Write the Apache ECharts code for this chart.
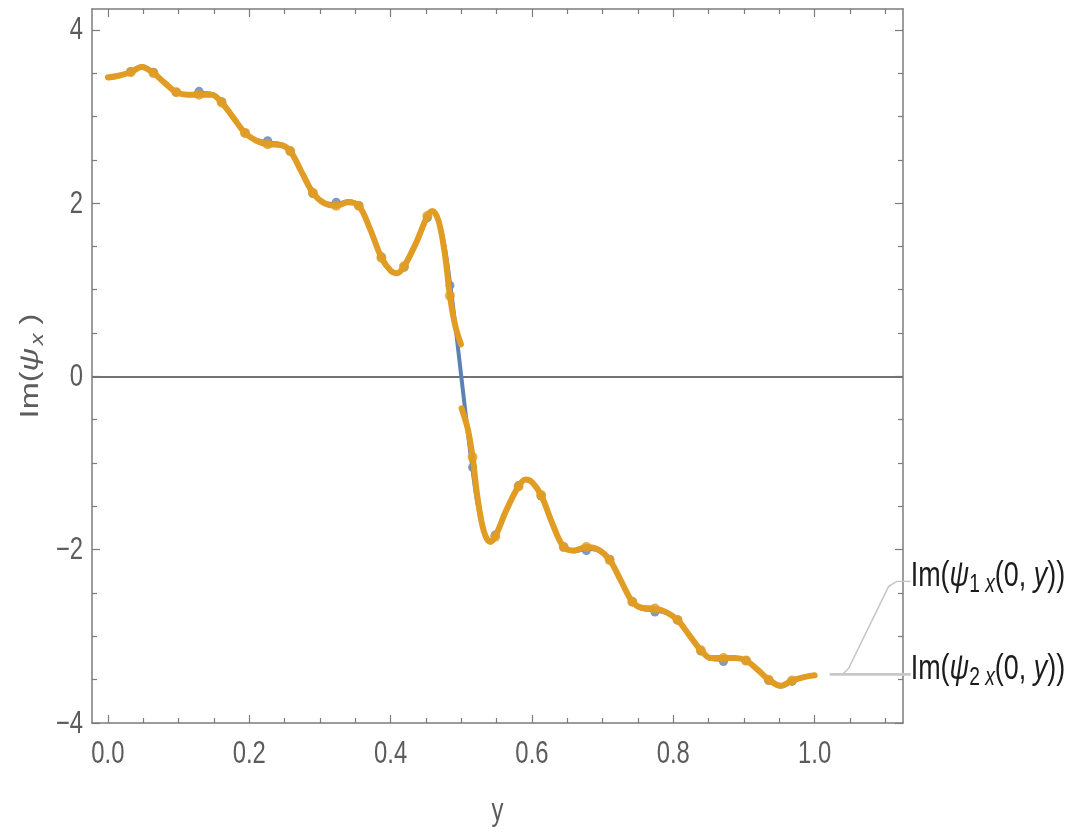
<!DOCTYPE html>
<html>
<head>
<meta charset="utf-8">
<script src="https://cdn.jsdelivr.net/npm/echarts@6/dist/echarts.min.js"></script>
<style>
  html, body { margin: 0; padding: 0; background: #ffffff; }
  #chart { width: 1068px; height: 833px; }
</style>
</head>
<body>
<div id="chart"></div>
<script>
// Sample positions (y) of the smooth curves
const knotY = [0, 0.015, 0.0323, 0.048, 0.0645, 0.08, 0.0968, 0.113, 0.129, 0.147, 0.161, 0.178, 0.194, 0.210,
  0.226, 0.245, 0.258, 0.274, 0.290, 0.306, 0.323, 0.340, 0.355, 0.371, 0.387, 0.400, 0.409, 0.419, 0.436,
  0.452, 0.459, 0.468, 0.477, 0.484, 0.492, 0.5, 0.508, 0.516, 0.523, 0.532, 0.541, 0.548, 0.564, 0.581,
  0.591, 0.600, 0.613, 0.629, 0.645, 0.660, 0.677, 0.694, 0.710, 0.726, 0.742, 0.755, 0.774, 0.790, 0.806,
  0.822, 0.839, 0.853, 0.871, 0.887, 0.903, 0.920, 0.935, 0.952, 0.968, 0.985, 1.0];

// Im(psi_1x(0, y))
const psi1Curve = [3.45, 3.47, 3.52, 3.58, 3.51, 3.39, 3.28, 3.25, 3.27, 3.26, 3.17, 2.98, 2.81, 2.73,
  2.70, 2.68, 2.60, 2.36, 2.11, 2.01, 1.99, 2.02, 1.97, 1.70, 1.38, 1.22, 1.19, 1.26, 1.53,
  1.83, 1.90, 1.79, 1.47, 1.08, 0.56, 0, -0.56, -1.08, -1.47, -1.79, -1.90, -1.83, -1.53, -1.26,
  -1.19, -1.22, -1.38, -1.70, -1.97, -2.02, -1.99, -2.01, -2.11, -2.36, -2.60, -2.68, -2.70, -2.73, -2.81,
  -2.98, -3.17, -3.26, -3.27, -3.25, -3.28, -3.39, -3.51, -3.58, -3.52, -3.47, -3.45];

// Im(psi_2x(0, y)) -- two branches with a jump at y = 0.5
const psi2UpperY = [0, 0.015, 0.0323, 0.048, 0.0645, 0.08, 0.0968, 0.113, 0.129, 0.147, 0.161, 0.178, 0.194, 0.210,
  0.226, 0.245, 0.258, 0.274, 0.290, 0.306, 0.323, 0.340, 0.355, 0.371, 0.387, 0.400, 0.409, 0.419, 0.436,
  0.452, 0.459, 0.468, 0.477, 0.484, 0.491, 0.4995];
const psi2Upper = [3.45, 3.47, 3.51, 3.57, 3.50, 3.39, 3.28, 3.25, 3.25, 3.25, 3.16, 2.98, 2.81, 2.72,
  2.68, 2.67, 2.60, 2.36, 2.12, 2.00, 1.97, 2.01, 1.97, 1.70, 1.37, 1.22, 1.19, 1.27, 1.54,
  1.85, 1.91, 1.79, 1.40, 0.93, 0.60, 0.37];
const psi2LowerY = [0.5005, 0.509, 0.516, 0.523, 0.532, 0.541, 0.548, 0.564, 0.581,
  0.591, 0.600, 0.613, 0.629, 0.645, 0.660, 0.677, 0.694, 0.710, 0.726, 0.742, 0.755, 0.774, 0.790, 0.806,
  0.822, 0.839, 0.853, 0.871, 0.887, 0.903, 0.920, 0.935, 0.952, 0.968, 0.985, 1.0];
const psi2Lower = [-0.37, -0.60, -0.93, -1.40, -1.79, -1.91, -1.85, -1.54, -1.27,
  -1.19, -1.22, -1.37, -1.70, -1.97, -2.01, -1.97, -2.00, -2.12, -2.36, -2.60, -2.67, -2.68, -2.72, -2.81,
  -2.98, -3.16, -3.25, -3.25, -3.25, -3.28, -3.39, -3.50, -3.57, -3.51, -3.47, -3.45];

// Sample points drawn as dots
const dotY = [0.0323, 0.0645, 0.0968, 0.129, 0.161, 0.194, 0.226, 0.258, 0.290, 0.323, 0.355, 0.387, 0.419,
  0.452, 0.484, 0.516, 0.548, 0.581, 0.613, 0.645, 0.677, 0.710, 0.742, 0.774, 0.806, 0.839, 0.871, 0.903,
  0.935, 0.968];
const psi1Dots = [3.52, 3.51, 3.28, 3.29, 3.17, 2.81, 2.72, 2.60, 2.11, 2.01, 1.97, 1.38, 1.26,
  1.83, 1.05, -1.05, -1.83, -1.26, -1.38, -1.97, -2.01, -2.11, -2.60, -2.72, -2.81, -3.17, -3.29, -3.28,
  -3.51, -3.52];
const psi2Dots = [3.51, 3.50, 3.28, 3.25, 3.16, 2.81, 2.68, 2.60, 2.12, 1.97, 1.97, 1.37, 1.27,
  1.85, 0.93, -0.93, -1.85, -1.27, -1.37, -1.97, -1.97, -2.12, -2.60, -2.68, -2.81, -3.16, -3.25, -3.28,
  -3.50, -3.51];

// Frame ticks and labels
const xMajor = [0, 0.2, 0.4, 0.6, 0.8, 1.0];
const xMinor = [0.05, 0.1, 0.15, 0.25, 0.3, 0.35, 0.45, 0.5, 0.55, 0.65, 0.7, 0.75, 0.85, 0.9, 0.95, 1.05, 1.1];
const yMajor = [-4, -2, 0, 2, 4];
const yMinor = [-3.5, -3, -2.5, -1.5, -1, -0.5, 0.5, 1, 1.5, 2.5, 3, 3.5];
const xTickText = ['0.0', '0.2', '0.4', '0.6', '0.8', '1.0'];
const yTickText = ['\u22124', '\u22122', '0', '2', '4'];
const legendIndex = ['1', '2'];

const BLUE = '#5e81b5';
const ORANGE = '#e19c24';
const FRAME = '#7c7c7c';
const LABEL = '#5c5c5c';
const FONT = '"Liberation Sans", Arial, sans-serif';
const NARROW = 0.77;   // horizontal squeeze for the narrow lettering

const X_MIN = -0.0225, X_MAX = 1.125, Y_MIN = -4, Y_MAX = 4.24;

const zip = (xs, ys) => xs.map((x, i) => [x, ys[i]]);

function frameAxis(dim, position, ticks, len, showLine) {
  const isX = dim === 'x';
  return {
    type: 'value',
    position: position,
    min: isX ? X_MIN : Y_MIN,
    max: isX ? X_MAX : Y_MAX,
    axisLine: { show: showLine, onZero: false, lineStyle: { color: FRAME, width: 1.5 } },
    axisTick: { show: true, inside: true, length: len, customValues: ticks, lineStyle: { color: FRAME, width: 1.2 } },
    axisLabel: { show: false },
    splitLine: { show: false },
    minorTick: { show: false }
  };
}

const chart = echarts.init(document.getElementById('chart'), null, { renderer: 'canvas' });

chart.setOption({
  animation: false,
  backgroundColor: '#ffffff',
  grid: { left: 92, right: 165, top: 9, bottom: 110, containLabel: false },
  xAxis: [
    frameAxis('x', 'bottom', xMajor, 8, true),
    frameAxis('x', 'bottom', xMinor, 5, false),
    frameAxis('x', 'top', xMajor, 8, true),
    frameAxis('x', 'top', xMinor, 5, false)
  ],
  yAxis: [
    frameAxis('y', 'left', yMajor, 8, true),
    frameAxis('y', 'left', yMinor, 5, false),
    frameAxis('y', 'right', yMajor, 8, true),
    frameAxis('y', 'right', yMinor, 5, false)
  ],
  series: [
    {
      name: 'psi1', type: 'line', smooth: 0.35, symbol: 'none',
      data: zip(knotY, psi1Curve),
      lineStyle: { color: BLUE, width: 4 },
      z: 2,
      markLine: {
        silent: true, symbol: 'none', label: { show: false },
        lineStyle: { color: '#737373', width: 2, type: 'solid' },
        data: [{ yAxis: 0 }],
        z: 1
      }
    },
    {
      name: 'psi1 dots', type: 'scatter', symbol: 'circle', symbolSize: 9,
      data: zip(dotY, psi1Dots), itemStyle: { color: BLUE }, z: 3
    },
    {
      name: 'psi2 upper', type: 'line', smooth: 0.35, symbol: 'none',
      data: zip(psi2UpperY, psi2Upper),
      lineStyle: { color: ORANGE, width: 6, cap: 'round' }, z: 4
    },
    {
      name: 'psi2 lower', type: 'line', smooth: 0.35, symbol: 'none',
      data: zip(psi2LowerY, psi2Lower),
      lineStyle: { color: ORANGE, width: 6, cap: 'round' }, z: 4
    },
    {
      name: 'psi2 dots', type: 'scatter', symbol: 'circle', symbolSize: 10,
      data: zip(dotY, psi2Dots), itemStyle: { color: ORANGE }, z: 5
    }
  ]
});

// ---- Text: tick labels, axis titles and curve labels (narrow lettering) ----
const toPx = (x, y) => chart.convertToPixel({ xAxisIndex: 0, yAxisIndex: 0 }, [x, y]);
const plotBottom = toPx(0, Y_MIN)[1];
const plotLeft = toPx(X_MIN, 0)[0];
const plotRight = toPx(X_MAX, 0)[0];
const plotTop = toPx(0, Y_MAX)[1];

function narrowText(text, x, y, extra) {
  return Object.assign({
    type: 'text', x: x, y: y, scaleX: NARROW, silent: true, z: 10,
    style: Object.assign({
      text: text, fontFamily: FONT, fontSize: 31, fill: LABEL, align: 'center', verticalAlign: 'middle'
    }, extra && extra.style)
  }, extra && extra.el);
}

const graphics = [];

xMajor.forEach((v, i) => {
  graphics.push(narrowText(xTickText[i], toPx(v, 0)[0], plotBottom + 31));
});
yMajor.forEach((v, i) => {
  graphics.push(narrowText(yTickText[i], plotLeft - 9, toPx(0, v)[1] + 1, { style: { align: 'right' } }));
});

// x-axis title
graphics.push(narrowText('y', (plotLeft + plotRight) / 2, plotBottom + 88));

// y-axis title, reading upwards
graphics.push({
  type: 'text', x: 31, y: (plotTop + plotBottom) / 2, rotation: Math.PI / 2,
  scaleX: 1.25, scaleY: 1, silent: true, z: 10,
  style: {
    text: '{r|Im(}{i|ψ}{s|x}{r| )}', align: 'center', verticalAlign: 'middle',
    rich: {
      r: { fontFamily: FONT, fontSize: 26, fill: LABEL, lineHeight: 32, verticalAlign: 'middle' },
      i: { fontFamily: FONT, fontSize: 26, fontStyle: 'italic', fill: LABEL, lineHeight: 32, verticalAlign: 'middle' },
      s: { fontFamily: FONT, fontSize: 19, fontStyle: 'italic', fill: LABEL, lineHeight: 32, verticalAlign: 'bottom', padding: [0, 0, 0, 2] }
    }
  }
});

// Curve labels with leader lines, anchored at the right end of the curves
const endPt = toPx(knotY[knotY.length - 1], psi1Curve[psi1Curve.length - 1]);
const ex = endPt[0], ey = endPt[1] - 1;
const labelX = ex + 96;
const rowGap = 93;

function curveLabel(idx, y) {
  const ink = '#1c1c1c';
  return {
    type: 'text', x: labelX, y: y - 5, scaleX: NARROW, silent: true, z: 10,
    style: {
      text: '{r|Im(}{i|ψ}{s|' + idx + ' }{si|x}{r|(0, }{i|y}{r|))}',
      align: 'left', verticalAlign: 'middle',
      rich: {
        r: { fontFamily: FONT, fontSize: 35, fill: ink, lineHeight: 42, verticalAlign: 'middle' },
        i: { fontFamily: FONT, fontSize: 35, fontStyle: 'italic', fill: ink, lineHeight: 42, verticalAlign: 'middle' },
        s: { fontFamily: FONT, fontSize: 25, fill: ink, lineHeight: 42, verticalAlign: 'bottom' },
        si: { fontFamily: FONT, fontSize: 25, fontStyle: 'italic', fill: ink, lineHeight: 42, verticalAlign: 'bottom' }
      }
    }
  };
}

graphics.push(
  {
    type: 'polyline', silent: true, z: 9,
    shape: { points: [[labelX, ey - rowGap], [labelX - 14, ey - rowGap], [labelX - 22, ey - rowGap + 5], [labelX - 62, ey - 6], [labelX - 68, ey]] },
    style: { stroke: '#c4c4c4', lineWidth: 1.4, fill: null }
  },
  {
    type: 'line', silent: true, z: 9,
    shape: { x1: ex + 15, y1: ey, x2: labelX, y2: ey },
    style: { stroke: '#c8c8c8', lineWidth: 2.6 }
  },
  curveLabel(legendIndex[0], ey - rowGap),
  curveLabel(legendIndex[1], ey)
);

chart.setOption({ graphic: graphics });
</script>
</body>
</html>
